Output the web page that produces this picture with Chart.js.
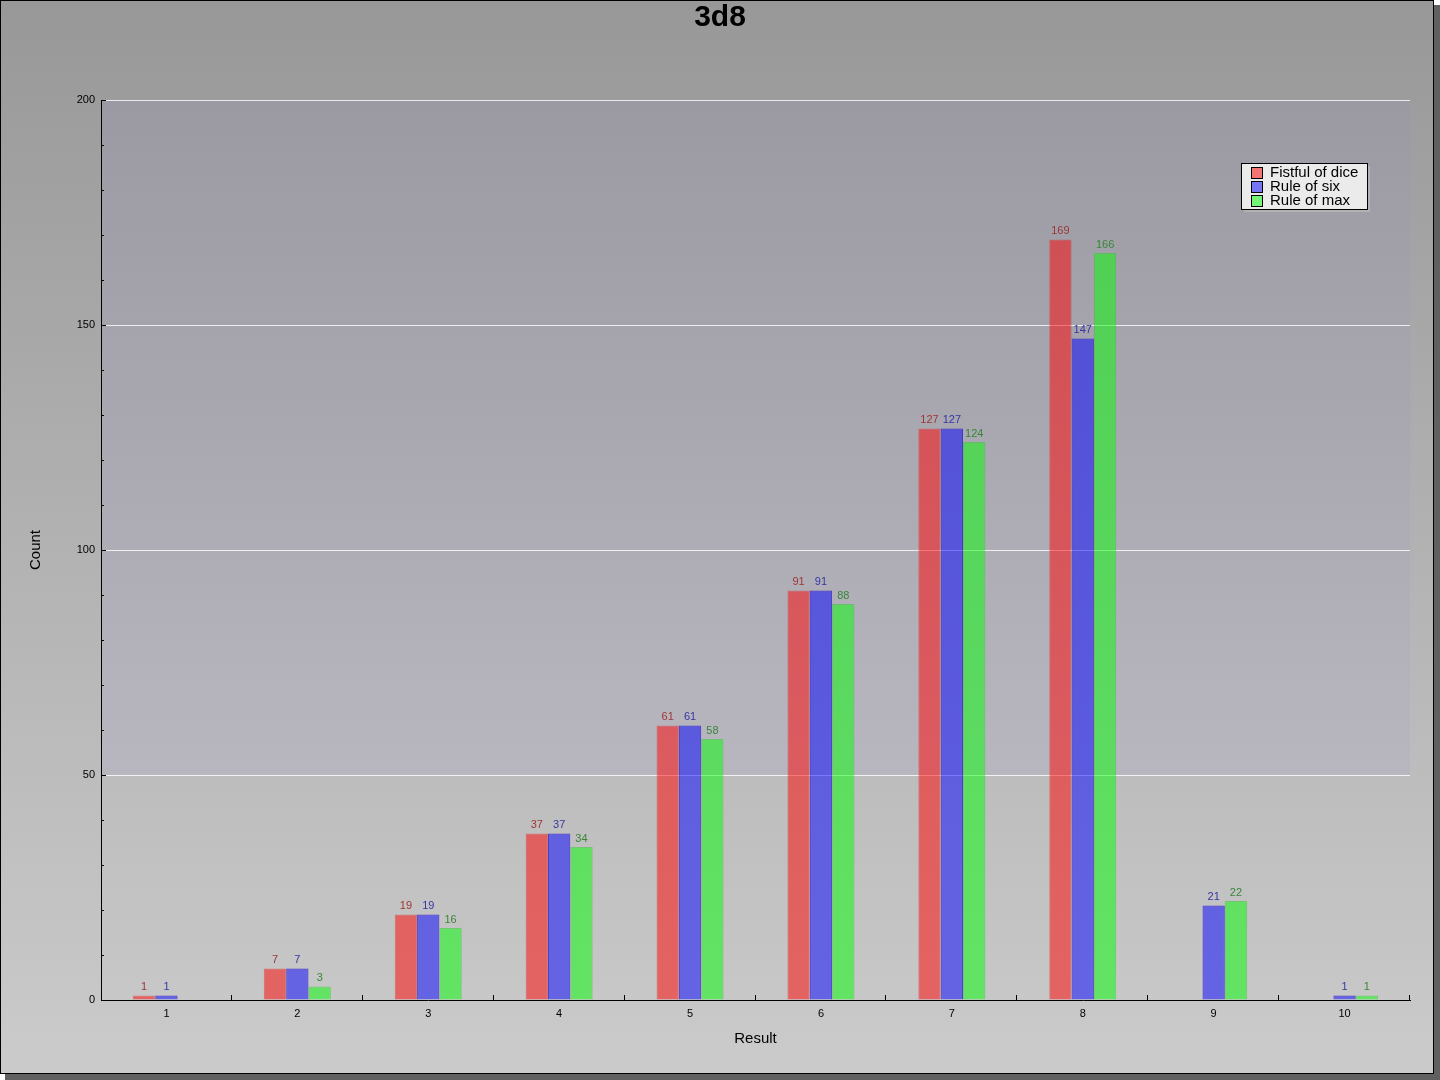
<!DOCTYPE html>
<html>
<head>
<meta charset="utf-8">
<title>3d8</title>
<script src="https://cdn.jsdelivr.net/npm/chart.js@4.4.1/dist/chart.umd.min.js"></script>
<style>
  html, body { margin: 0; padding: 0; background: #fff; }
  #wrap { width: 1440px; height: 1080px; }
</style>
</head>
<body>
<div id="wrap"><canvas id="dice" width="1440" height="1080"></canvas></div>
<script>
// values
var results = ['1', '2', '3', '4', '5', '6', '7', '8', '9', '10'];
var fistful = [1, 7, 19, 37, 61, 91, 127, 169, 0, 0];
var ruleSix = [1, 7, 19, 37, 61, 91, 127, 147, 21, 1];
var ruleMax = [0, 3, 16, 34, 58, 88, 124, 166, 22, 1];
var seriesNames = ['Fistful of dice', 'Rule of six', 'Rule of max'];
var yMax = 200;
var yStep = 50;
var yMinorStep = 10;

Chart.defaults.font.family = '"Liberation Sans", Arial, sans-serif';
Chart.defaults.color = '#000';

var fills = ['rgba(255,0,0,0.5)', 'rgba(0,0,255,0.5)', 'rgba(0,255,0,0.5)'];
var edges = ['rgba(220,40,40,0.5)', 'rgba(40,20,200,0.75)', 'rgba(40,200,40,0.5)'];
var labelColors = ['#9e3434', '#3636a4', '#378637'];

// zero counts are not drawn as bars
function bars(arr) {
    return arr.map(function (v) { return v > 0 ? v : null; });
}

var framePlugin = {
    id: 'frame',
    beforeDraw: function (chart) {
        var ctx = chart.ctx, a = chart.chartArea;
        var w = chart.width, h = chart.height;
        ctx.save();
        // drop shadow
        ctx.fillStyle = '#606060';
        ctx.fillRect(5, 5, w - 5, h - 5);
        // outer background
        var g = ctx.createLinearGradient(0, 0, 0, h - 6);
        g.addColorStop(0, 'rgb(152,152,152)');
        g.addColorStop(1, 'rgb(203,203,203)');
        ctx.fillStyle = g;
        ctx.fillRect(0, 0, w - 6, h - 6);
        ctx.strokeStyle = '#000';
        ctx.lineWidth = 1;
        ctx.strokeRect(0.5, 0.5, w - 7, h - 7);
        ctx.beginPath();
        ctx.moveTo(w - 6.5, 0); ctx.lineTo(w - 6.5, h - 6);
        ctx.moveTo(0, h - 6.5); ctx.lineTo(w - 6, h - 6.5);
        ctx.stroke();
        // plot area: bluish tint that fades out towards the lower band
        var band = chart.scales.y.getPixelForValue(yStep);
        var pg = ctx.createLinearGradient(0, a.top, 0, band);
        pg.addColorStop(0, 'rgb(155,153,162)');
        pg.addColorStop(1, 'rgb(184,183,192)');
        ctx.fillStyle = pg;
        ctx.fillRect(a.left, a.top, a.right - a.left, band - a.top);
        ctx.restore();
    },
    afterDatasetsDraw: function (chart) {
        var ctx = chart.ctx;
        ctx.save();
        ctx.font = '11px "Liberation Sans", Arial, sans-serif';
        ctx.textAlign = 'center';
        ctx.textBaseline = 'bottom';
        chart.data.datasets.forEach(function (ds, i) {
            var meta = chart.getDatasetMeta(i);
            ctx.fillStyle = labelColors[i];
            meta.data.forEach(function (el, j) {
                var v = ds.data[j];
                if (!v) return;
                ctx.fillText(String(v), el.x, el.y - 3);
            });
        });
        ctx.restore();
    },
    afterDraw: function (chart) {
        var ctx = chart.ctx, a = chart.chartArea;
        var ys = chart.scales.y, xs = chart.scales.x;
        ctx.save();
        ctx.strokeStyle = '#000';
        ctx.lineWidth = 1;
        ctx.beginPath();
        // inward ticks on the y axis
        for (var v = 0; v <= yMax; v += yMinorStep) {
            var py = Math.round(ys.getPixelForValue(v)) + 0.5;
            var len = (v % yStep === 0) ? 5 : 3;
            ctx.moveTo(a.left, py);
            ctx.lineTo(a.left + len, py);
        }
        // ticks between categories on the x axis
        var step = (a.right - a.left) / results.length;
        for (var k = 1; k <= results.length; k++) {
            var px = Math.round(xs.getPixelForValue(k - 1) + step / 2) - 0.5;
            ctx.moveTo(px, a.bottom);
            ctx.lineTo(px, a.bottom - 5);
        }
        ctx.stroke();

        // legend box
        var lx = 1241, ly = 163, lw = 126, lh = 46;
        ctx.fillStyle = 'rgb(178,178,178)';
        ctx.fillRect(lx + 3, ly + 3, lw, lh);
        ctx.fillStyle = 'rgb(235,235,235)';
        ctx.fillRect(lx, ly, lw, lh);
        ctx.strokeRect(lx + 0.5, ly + 0.5, lw, lh);
        ctx.font = '15px "Liberation Sans", Arial, sans-serif';
        ctx.textAlign = 'left';
        ctx.textBaseline = 'middle';
        chart.data.datasets.forEach(function (ds, i) {
            var cy = ly + 9 + i * 14;
            ctx.fillStyle = fills[i];
            ctx.fillRect(lx + 11, cy - 4, 10, 10);
            ctx.strokeStyle = '#000';
            ctx.strokeRect(lx + 10.5, cy - 4.5, 11, 11);
            ctx.fillStyle = '#000';
            ctx.fillText(ds.label, lx + 29, cy + 1);
        });
        ctx.restore();
    }
};

new Chart(document.getElementById('dice'), {
    type: 'bar',
    data: {
        labels: results,
        datasets: [fistful, ruleSix, ruleMax].map(function (arr, i) {
            return {
                label: seriesNames[i],
                data: bars(arr),
                backgroundColor: fills[i],
                borderColor: edges[i],
                borderWidth: 1,
                borderSkipped: 'start',
                categoryPercentage: 0.512,
                barPercentage: 1.0
            };
        })
    },
    options: {
        responsive: false,
        animation: false,
        layout: { padding: { left: 30, right: 30, top: 0, bottom: 0 } },
        plugins: {
            legend: { display: false },
            tooltip: { enabled: false },
            title: {
                display: true,
                text: '3d8',
                color: '#000',
                font: { size: 30, weight: 'bold' },
                padding: { top: 0, bottom: 64 }
            }
        },
        scales: {
            x: {
                offset: true,
                grid: { display: true, drawOnChartArea: false, drawTicks: false },
                border: { display: true, color: '#000', width: 1 },
                ticks: { font: { size: 11 }, color: '#000', padding: 7 },
                title: { display: true, text: 'Result', font: { size: 15 }, color: '#000', padding: { top: 0, bottom: 32 } },
                afterFit: function (s) { s.height = 80; }
            },
            y: {
                min: 0,
                max: yMax,
                ticks: { stepSize: yStep, font: { size: 11 }, color: '#000', padding: 6 },
                grid: {
                    drawTicks: false,
                    color: function (c) { return c.tick && c.tick.value === 0 ? 'rgba(0,0,0,0)' : 'rgba(255,255,255,0.8)'; },
                    lineWidth: 1
                },
                border: { display: true, color: '#000', width: 1 },
                title: { display: true, text: 'Count', font: { size: 15 }, color: '#000', padding: { top: -3, bottom: 0 } },
                afterFit: function (s) { s.width = 71; }
            }
        }
    },
    plugins: [framePlugin]
});
</script>
</body>
</html>
